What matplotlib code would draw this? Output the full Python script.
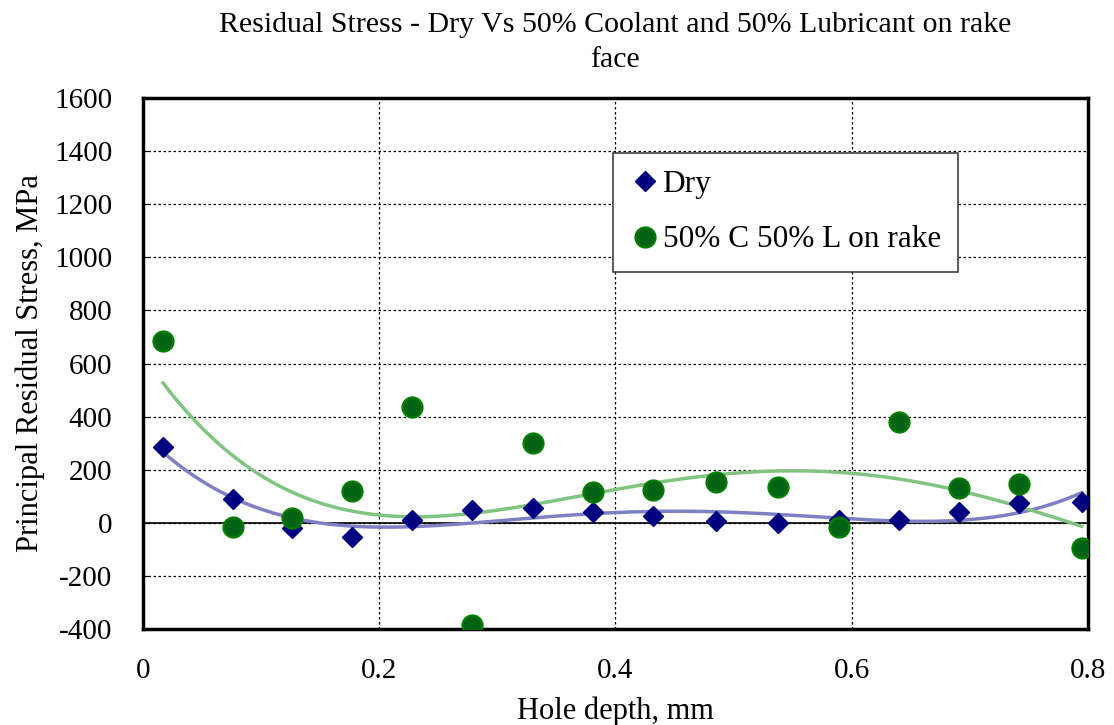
import numpy as np
import matplotlib
matplotlib.use("Agg")
import matplotlib.pyplot as plt

plt.rcParams['font.family'] = ['Liberation Serif', 'DejaVu Serif']
plt.rcParams['axes.unicode_minus'] = False

# hole depth (mm) of each measurement
depth = [0.017, 0.076, 0.126, 0.177, 0.228, 0.279, 0.330, 0.381,
         0.432, 0.485, 0.538, 0.589, 0.640, 0.691, 0.742, 0.795]
dry = [287, 89, -20, -52, 9, 49, 55, 39, 27, 5, 0, 12, 12, 39, 74, 80]
wet = [683, -14, 18, 118, 436, -384, 301, 116, 122, 153, 134, -17,
       378, 131, 146, -95]

xticks = [0, 0.2, 0.4, 0.6, 0.8]
yticks = list(range(-400, 1601, 200))

fig = plt.figure(figsize=(11.14, 7.25), dpi=100)
ax = fig.add_axes([0.1284, 0.1324, 0.848, 0.7324])

x = np.array(depth)
xs = np.linspace(x.min(), x.max(), 300)

# 4th order polynomial trendlines
p_dry = np.polyfit(x, dry, 4)
p_wet = np.polyfit(x, wet, 4)
ax.plot(xs, np.polyval(p_dry, xs), color='#7f7fc4', lw=2.5, zorder=3)
ax.plot(xs, np.polyval(p_wet, xs), color='#80c480', lw=2.5, zorder=3)

ax.plot(depth, dry, 'D', color='#000080', ms=10.5, mec='#000080',
        label='Dry', zorder=4, ls='none')
ax.plot(depth, wet, 'o', color='#006414', ms=14.5, mec='#008000', mew=1.5,
        label='50% C 50% L on rake', zorder=5, ls='none')

ax.axhline(0, color='black', lw=1.2, zorder=2)

ax.set_xlim(0, 0.8)
ax.set_ylim(-400, 1600)
ax.set_xticks(xticks)
ax.set_xticklabels(['0', '0.2', '0.4', '0.6', '0.8'])
ax.set_yticks(yticks)
ax.grid(True, color='black', ls=(0, (2, 2)), lw=0.9)
ax.tick_params(axis='y', direction='in', length=5, labelsize=21, pad=22)
ax.tick_params(axis='x', length=0, labelsize=21, pad=21)
for s in ax.spines.values():
    s.set_linewidth(2.5)

ax.set_xlabel('Hole depth, mm', fontsize=22, labelpad=9)
ax.set_ylabel('Principal Residual Stress, MPa', fontsize=22, labelpad=7)
ax.set_title('Residual Stress - Dry Vs 50% Coolant and 50% Lubricant on rake\nface',
             fontsize=21.5, pad=22, linespacing=1.45)

leg = ax.legend(loc='upper left', bbox_to_anchor=(0.497, 0.897), fontsize=22.5,
                frameon=True, fancybox=False, handletextpad=0.05,
                handlelength=1.0, borderpad=0.55, labelspacing=0.85,
                borderaxespad=0)
leg.get_frame().set_edgecolor('#404040')
leg.get_frame().set_linewidth(1.2)
leg.get_frame().set_alpha(1)

fig.savefig('out.png', dpi=100)
